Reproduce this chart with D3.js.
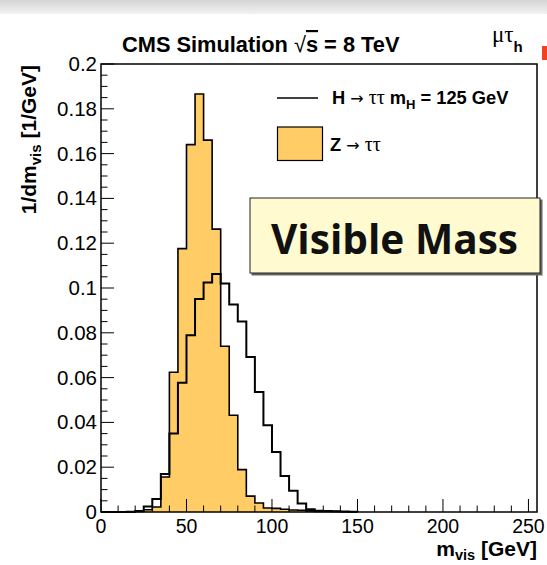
<!DOCTYPE html>
<html><head><meta charset="utf-8">
<script src="https://cdn.jsdelivr.net/npm/d3@7"></script>
<style>
html,body{margin:0;padding:0;background:#fff;}
svg{display:block;}
</style></head>
<body>
<script>
// ---- data ----
const binWidth = 5;
const binLowEdges = [0,5,10,15,20,25,30,35,40,45,50,55,60,65,70,75,80,85,90,95,100,105,110,115,120,125,130,135,140,145];
const zttValues = [0,0,0,0,0.0003,0.001,0.0022,0.0156,0.0624,0.1176,0.164,0.1866,0.166,0.1263,0.074,0.0432,0.0189,0.0071,0.0040,0.0018,0.0016,0.0012,0.0009,0.0008,0.0005,0.0003,0.0002,0.0002,0.0001,0.0001];
const httValues = [0,0,0,0.0001,0.0004,0.0025,0.0058,0.017,0.035,0.0577,0.0789,0.0951,0.1025,0.1063,0.102,0.0926,0.0851,0.0692,0.0536,0.0387,0.0268,0.0161,0.0095,0.0038,0.0012,0.0006,0.0004,0.0003,0.0002,0.0001];
const xMajorTicks = [0,50,100,150,200,250];
const xTickLabels = ["0","50","100","150","200","250"];
const yMajorTicks = [0,0.02,0.04,0.06,0.08,0.1,0.12,0.14,0.16,0.18,0.2];
const yTickLabels = ["0","0.02","0.04","0.06","0.08","0.1","0.12","0.14","0.16","0.18","0.2"];
const xDomain = [0,255];
const yDomain = [0,0.2];

(function(){
const W = 547, H = 565;
const svg = d3.select("body").append("svg").attr("width",W).attr("height",H);

const defs = svg.append("defs");
const g1 = defs.append("linearGradient").attr("id","topg").attr("x1",0).attr("y1",0).attr("x2",0).attr("y2",1);
g1.append("stop").attr("offset","0%").attr("stop-color","#d4d4d4");
g1.append("stop").attr("offset","100%").attr("stop-color","#f2f2f2");
svg.append("rect").attr("x",0).attr("y",0).attr("width",W).attr("height",14).attr("fill","url(#topg)");

const pl = 101, pr = 537, pt = 64, pb = 512;
const x = d3.scaleLinear().domain(xDomain).range([pl,pr]);
const y = d3.scaleLinear().domain(yDomain).range([pb,pt]);

const FONT = "'Liberation Sans', Arial, Helvetica, sans-serif";
const SERIF = "'Liberation Serif', 'DejaVu Serif', serif";
const ARROWF = "'DejaVu Sans', sans-serif";

function histPoints(vals){
  const pts = [];
  pts.push([binLowEdges[0],0]);
  vals.forEach((v,i)=>{
    pts.push([binLowEdges[i],v]);
    pts.push([binLowEdges[i]+binWidth,v]);
  });
  pts.push([binLowEdges[binLowEdges.length-1]+binWidth,0]);
  return pts;
}
const line = d3.line().x(d=>x(d[0])).y(d=>y(d[1]));

svg.append("path").attr("d", line(histPoints(zttValues)))
  .attr("fill","#ffcc66").attr("stroke","#000").attr("stroke-width",1.6).attr("stroke-linejoin","miter");
svg.append("path").attr("d", line(histPoints(httValues)))
  .attr("fill","none").attr("stroke","#000").attr("stroke-width",2).attr("stroke-linejoin","miter");

svg.append("rect").attr("x",pl).attr("y",pt).attr("width",pr-pl).attr("height",pb-pt)
  .attr("fill","none").attr("stroke","#000").attr("stroke-width",1.5);

const xMinor = d3.range(0,256,10);
svg.append("g").selectAll("line").data(xMinor).join("line")
  .attr("x1",d=>x(d)).attr("x2",d=>x(d))
  .attr("y1",pb).attr("y2",d=> pb - (d%50===0 ? 13 : 6.5))
  .attr("stroke","#000").attr("stroke-width",1);
svg.append("g").selectAll("text").data(xMajorTicks).join("text")
  .attr("x",d=>x(d)).attr("y",pb+20.5)
  .attr("text-anchor","middle").attr("font-family",FONT).attr("font-size",19.5)
  .text((d,i)=>xTickLabels[i]);

const yMinor = d3.range(0,0.2001,0.005);
svg.append("g").selectAll("line").data(yMinor).join("line")
  .attr("x1",pl).attr("x2",(d,i)=> pl + (i%4===0 ? 13 : 6.5))
  .attr("y1",d=>y(d)).attr("y2",d=>y(d))
  .attr("stroke","#000").attr("stroke-width",1);
svg.append("g").selectAll("text").data(yMajorTicks).join("text")
  .attr("x",pl-4).attr("y",d=>y(d)+7)
  .attr("text-anchor","end").attr("font-family",FONT).attr("font-size",20.5)
  .text((d,i)=>yTickLabels[i]);

const xt = svg.append("text").attr("x",pr).attr("y",555.5).attr("text-anchor","end")
  .attr("font-family",FONT).attr("font-weight","bold").attr("font-size",21);
xt.append("tspan").text("m");
xt.append("tspan").attr("font-size",14.5).attr("dy",4.5).text("vis");
xt.append("tspan").attr("dy",-4.5).text(" [GeV]");

const yt = svg.append("text").attr("transform",`translate(36,${pt+1}) rotate(-90)`).attr("text-anchor","end")
  .attr("font-family",FONT).attr("font-weight","bold").attr("font-size",21);
yt.append("tspan").text("1/dm");
yt.append("tspan").attr("font-size",15).attr("dy",5).text("vis");
yt.append("tspan").attr("dy",-5).text(" [1/GeV]");

const tt = svg.append("text").attr("x",122).attr("y",52)
  .attr("font-family",FONT).attr("font-weight","bold").attr("font-size",21.8);
tt.append("tspan").text("CMS Simulation ");
tt.append("tspan").attr("font-weight","normal").text("√");
tt.append("tspan").attr("text-decoration","overline").text("s");
tt.append("tspan").text(" = 8 TeV");

const mt = svg.append("text").attr("x",492).attr("y",42).attr("font-family",SERIF).attr("font-size",23);
mt.append("tspan").text("μτ");
mt.append("tspan").attr("font-family",FONT).attr("font-weight","bold").attr("font-size",15).attr("dy",10).text("h");
svg.append("rect").attr("x",542).attr("y",46).attr("width",5).attr("height",14).attr("fill","#f0421c");

svg.append("line").attr("x1",277).attr("x2",318).attr("y1",98).attr("y2",98).attr("stroke","#000").attr("stroke-width",1.5);
const l1 = svg.append("text").attr("x",332).attr("y",104).attr("font-family",FONT).attr("font-weight","bold").attr("font-size",18.3);
l1.append("tspan").text("H ");
l1.append("tspan").attr("font-weight","normal").attr("font-family",ARROWF).attr("font-size",16).text("→");
l1.append("tspan").attr("font-weight","normal").attr("font-family",SERIF).attr("font-size",20).text(" ττ ");
l1.append("tspan").text("m");
l1.append("tspan").attr("font-size",13).attr("dy",5).text("H");
l1.append("tspan").attr("dy",-5).text(" = 125 GeV");

svg.append("rect").attr("x",277.5).attr("y",127).attr("width",45).attr("height",33.5)
  .attr("fill","#ffcc66").attr("stroke","#000").attr("stroke-width",1.2);
const l2 = svg.append("text").attr("x",330).attr("y",151).attr("font-family",FONT).attr("font-weight","bold").attr("font-size",18.3);
l2.append("tspan").text("Z ");
l2.append("tspan").attr("font-weight","normal").attr("font-family",ARROWF).attr("font-size",16).text("→");
l2.append("tspan").attr("font-weight","normal").attr("font-family",SERIF).attr("font-size",20).text(" ττ");

svg.append("rect").attr("x",251.5).attr("y",199.5).attr("width",291).attr("height",76).attr("fill","#666");
svg.append("rect").attr("x",250).attr("y",198).attr("width",290).attr("height",75)
  .attr("fill","#fffad0").attr("stroke","#222").attr("stroke-width",1);
svg.append("text").attr("x",271).attr("y",254).attr("font-family","'Open Sans', sans-serif").attr("font-weight","bold")
  .attr("font-size",42).attr("textLength",247).attr("lengthAdjust","spacingAndGlyphs").attr("fill","#111").text("Visible Mass");
})();
</script>
</body></html>
